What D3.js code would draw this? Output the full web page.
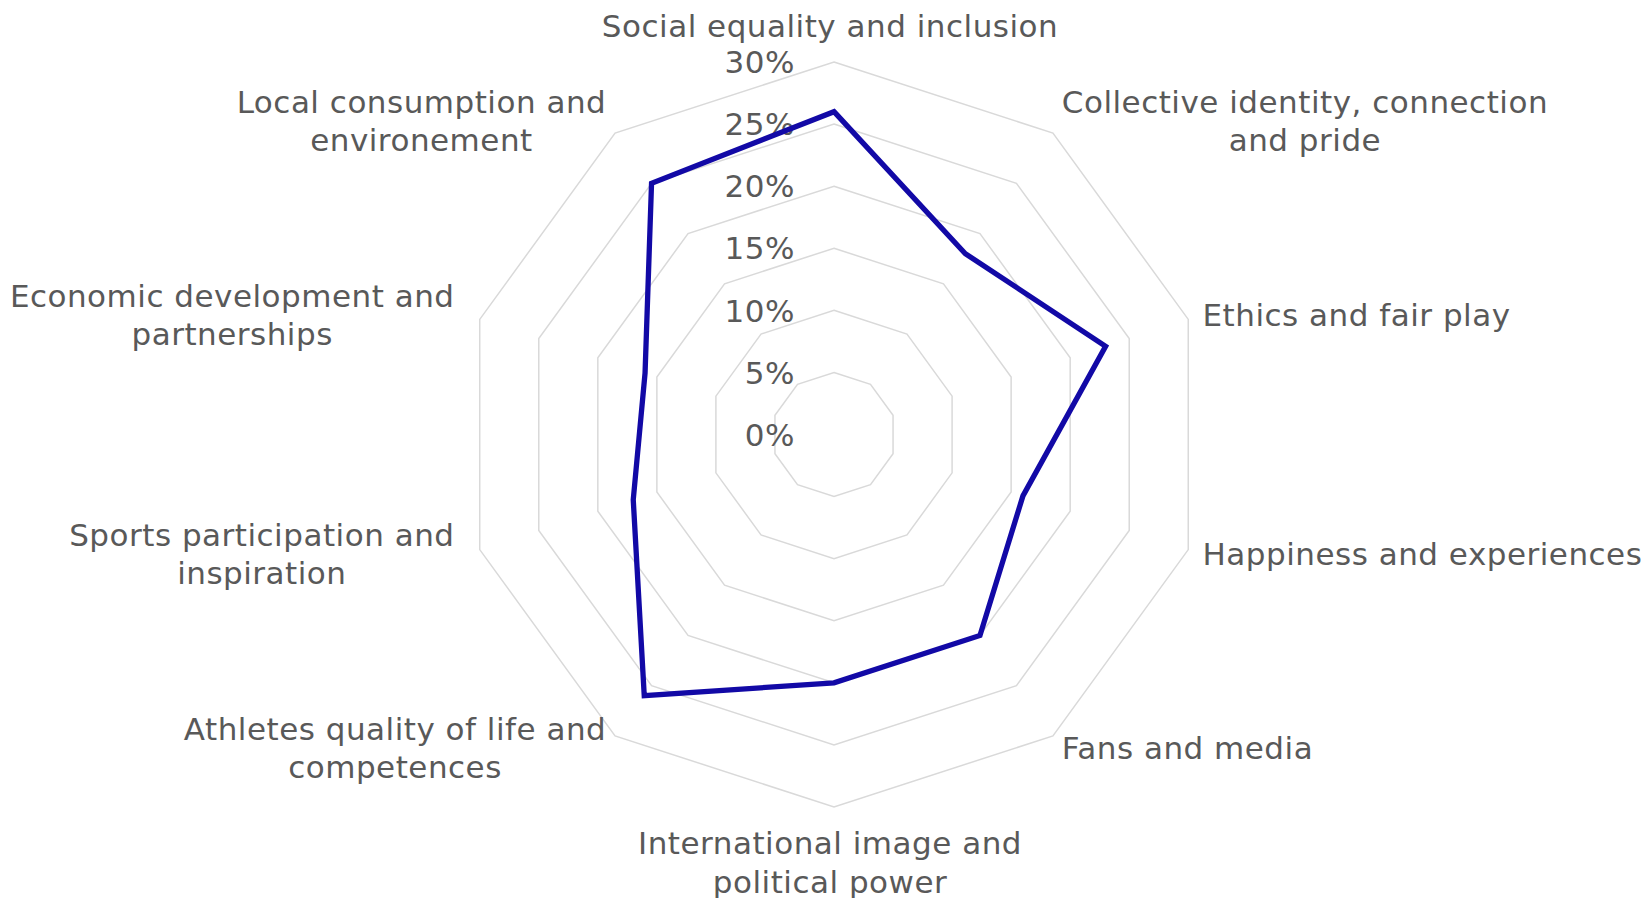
<!DOCTYPE html>
<html>
<head>
<meta charset="utf-8">
<script src="https://cdn.jsdelivr.net/npm/d3@7"></script>
<style>
  html, body { margin: 0; padding: 0; background: #ffffff; }
  svg { display: block; }
  text { font-family: Verdana, "DejaVu Sans", sans-serif; fill: #595959; letter-spacing: 0.5px; }
</style>
</head>
<body>
<svg id="chart" width="1646" height="898"></svg>
<script>
// ---- data ----
const categories = [
  "Social equality and inclusion",
  "Collective identity, connection\nand pride",
  "Ethics and fair play",
  "Happiness and experiences",
  "Fans and media",
  "International image and\npolitical power",
  "Athletes quality of life and\ncompetences",
  "Sports participation and\ninspiration",
  "Economic development and\npartnerships",
  "Local consumption and\nenvironement"
];
const values = [26, 18, 23, 16, 20, 20, 26, 17, 16, 25];
const tickValues = [0, 5, 10, 15, 20, 25, 30];
const tickLabels = ["0%", "5%", "10%", "15%", "20%", "25%", "30%"];

// ---- layout ----
const W = 1646, H = 898;
const cx = 834, cy = 434.5, R = 372.5;
const fontSize = 31;
const lineH = 38.5;

const svg = d3.select("#chart");
const g = svg.append("g").attr("transform", `translate(${cx},${cy})`);

const r = d3.scaleLinear().domain([0, 30]).range([0, R]);
const n = categories.length;
const angle = d3.scaleLinear().domain([0, n]).range([0, 2 * Math.PI]);

const pt = (i, v) => {
  const a = angle(i);
  return [Math.sin(a) * r(v), -Math.cos(a) * r(v)];
};

// grid rings
const ringLine = d3.line().curve(d3.curveLinearClosed);
g.selectAll("path.ring")
  .data(tickValues.filter(v => v > 0))
  .join("path")
  .attr("class", "ring")
  .attr("d", v => ringLine(d3.range(n).map(i => pt(i, v))))
  .attr("fill", "none")
  .attr("stroke", "#d9d9d9")
  .attr("stroke-width", 1.5);

// tick labels
g.selectAll("text.tick")
  .data(tickValues)
  .join("text")
  .attr("class", "tick")
  .attr("x", -39)
  .attr("y", v => -r(v))
  .attr("dy", "0.36em")
  .attr("text-anchor", "end")
  .style("font-size", fontSize + "px")
  .text((v, i) => tickLabels[i]);

// series line
g.append("path")
  .datum(values)
  .attr("d", ringLine(values.map((v, i) => pt(i, v))))
  .attr("fill", "none")
  .attr("stroke", "#1209a6")
  .attr("stroke-width", 5.3)
  .attr("stroke-linejoin", "miter");

// category labels
categories.forEach((label, i) => {
  const lines = label.split("\n");
  const a = angle(i);
  const ux = Math.sin(a), uy = -Math.cos(a);
  const vx = ux * R, vy = uy * R;
  const t = g.append("text").style("font-size", fontSize + "px");
  const tspans = lines.map(l => t.append("tspan").text(l));
  if (Math.abs(ux) < 0.01) {
    t.attr("text-anchor", "middle");
    let firstBase;
    if (uy < 0) firstBase = vy - 25 - (lines.length - 1) * lineH;
    else firstBase = vy + 47;
    tspans.forEach((ts, k) => ts.attr("x", vx - 4).attr("y", firstBase + k * lineH));
  } else {
    const widths = tspans.map(ts => ts.node().getComputedTextLength());
    const w = d3.max(widths);
    const pad = 15 * Math.abs(ux) + (ux < -0.9 ? 11 : 0);
    const centerX = ux > 0 ? vx + pad + w / 2 : vx - pad - w / 2;
    const yc = vy + 15 * uy;
    const firstBase = yc - (lines.length - 1) * lineH / 2 + 11;
    t.attr("text-anchor", "middle");
    tspans.forEach((ts, k) => ts.attr("x", centerX).attr("y", firstBase + k * lineH));
  }
});
</script>
</body>
</html>
